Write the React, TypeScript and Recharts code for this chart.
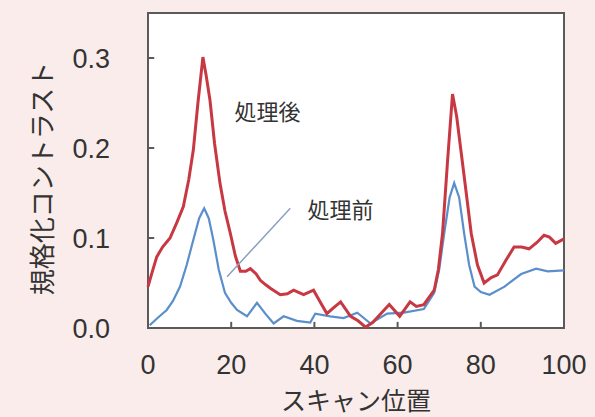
import { LineChart, Line, XAxis, YAxis, ReferenceLine, ReferenceDot, ReferenceArea, CartesianGrid, Label } from 'recharts'

// red curve (after processing)
const afterX = [0, 1, 2.1, 3.5, 5.3, 7, 8.5, 9.8, 10.9, 12, 13.2, 14, 14.9, 16, 17.3, 18.5, 19.8, 21, 22.2, 23.5, 24.6, 26, 27, 28.3, 29.5, 31.8, 33.5, 35, 37.4, 39.8, 41.5, 43, 44.5, 46.3, 48.7, 50.5, 52.3, 54, 56, 58, 60.5, 63, 64.5, 66.3, 68.8, 69.8, 70.8, 72, 73.2, 74.2, 75.2, 76.5, 77.7, 79.2, 80.8, 82.5, 84, 86, 88, 89.8, 91.6, 93.5, 95.2, 96.5, 98, 100]
const afterY = [0.046, 0.062, 0.079, 0.09, 0.1, 0.118, 0.135, 0.165, 0.198, 0.25, 0.301, 0.28, 0.253, 0.205, 0.161, 0.13, 0.105, 0.08, 0.063, 0.063, 0.066, 0.06, 0.053, 0.048, 0.044, 0.037, 0.038, 0.042, 0.037, 0.042, 0.028, 0.016, 0.022, 0.029, 0.013, 0.008, 0.001, 0.006, 0.016, 0.026, 0.013, 0.029, 0.024, 0.026, 0.042, 0.065, 0.105, 0.185, 0.26, 0.235, 0.198, 0.15, 0.105, 0.07, 0.05, 0.056, 0.059, 0.075, 0.09, 0.09, 0.088, 0.095, 0.103, 0.101, 0.094, 0.099]

// blue curve (before processing)
const beforeX = [0.4, 2.5, 4.5, 6, 7.7, 9.3, 10.9, 12.3, 13.5, 14.6, 15.7, 17, 18.5, 20, 21.4, 23.8, 26.2, 28.2, 30.2, 32.6, 35.8, 39, 40.2, 43.8, 47, 50.3, 53.5, 57.5, 61.5, 66.3, 68.8, 70, 71.2, 72.5, 73.6, 74.8, 76, 77.2, 78.5, 80, 82.1, 85.7, 89.7, 93.3, 96.1, 100]
const beforeY = [0.003, 0.012, 0.02, 0.03, 0.046, 0.07, 0.098, 0.122, 0.133, 0.122, 0.098, 0.065, 0.039, 0.028, 0.02, 0.013, 0.028, 0.016, 0.005, 0.013, 0.008, 0.006, 0.016, 0.013, 0.011, 0.017, 0.005, 0.016, 0.017, 0.021, 0.039, 0.065, 0.105, 0.145, 0.161, 0.145, 0.105, 0.07, 0.046, 0.04, 0.037, 0.046, 0.06, 0.066, 0.063, 0.064]

const xTicks = [0, 20, 40, 60, 80, 100]
const yTicks = [0, 0.1, 0.2, 0.3]

const afterData = afterX.map((x, i) => ({ x, v: afterY[i] }))
const beforeData = beforeX.map((x, i) => ({ x, v: beforeY[i] }))

const BG = '#f9ecea'
const FRAME = '#5a5a5a'
const TEXT = '#333333'
const SANS = '"Liberation Sans", Arial, sans-serif'
const JP = '"Noto Sans CJK JP", sans-serif'
// inward tick length in data units (about 6px)
const X_TICK_LEN = 1.5
const Y_TICK_LEN = 0.0068

const YTitle = ({ viewBox }: any) => {
  const cx = 40
  const cy = viewBox.y + viewBox.height / 2 + 8
  return (
    <text x={cx} y={cy} transform={`rotate(-90 ${cx} ${cy})`} textAnchor="middle" dominantBaseline="central"
      fontFamily={JP} fontSize={26} fill={TEXT}>
      規格化コントラスト
    </text>
  )
}

const XTitle = ({ viewBox }: any) => (
  <text x={viewBox.x + viewBox.width / 2} y={410} textAnchor="middle" fontFamily={JP} fontSize={25} fill={TEXT}>
    スキャン位置
  </text>
)

const note = (text: string) => ({ viewBox }: any) => (
  <text x={viewBox.x} y={viewBox.y} textAnchor="middle" dominantBaseline="central" fontFamily={JP} fontSize={22} fill={TEXT}>
    {text}
  </text>
)

export default function App() {
  return (
    <div style={{ position: 'absolute', left: 0, top: 0, width: 595, height: 417, background: BG }}>
      <LineChart width={595} height={417} margin={{ top: 13, right: 31, bottom: 0, left: 0 }}>
        <CartesianGrid horizontal={false} vertical={false} fill="#ffffff" fillOpacity={1} />
        <XAxis dataKey="x" type="number" domain={[0, 100]} ticks={xTicks} height={89}
          tickSize={-6} tickMargin={33} interval={0}
          tick={{ fill: TEXT, fontSize: 27, fontFamily: SANS }}
          axisLine={false} tickLine={false}
          allowDuplicatedCategory={false}>
          <Label content={XTitle} />
        </XAxis>
        <YAxis type="number" domain={[0, 0.35]} ticks={yTicks} width={148}
          tickSize={-6} tickMargin={44} interval={0}
          tickFormatter={(v: number) => v.toFixed(1)}
          tick={{ fill: TEXT, fontSize: 27, fontFamily: SANS }}
          axisLine={false} tickLine={false}>
          <Label content={YTitle} />
        </YAxis>
        {xTicks.slice(1, -1).map((t) => (
          <ReferenceLine key={`xt${t}`} segment={[{ x: t, y: 0 }, { x: t, y: Y_TICK_LEN }]} stroke={FRAME} strokeWidth={2} />
        ))}
        {yTicks.slice(1).map((t) => (
          <ReferenceLine key={`yt${t}`} segment={[{ x: 0, y: t }, { x: X_TICK_LEN, y: t }]} stroke={FRAME} strokeWidth={2} />
        ))}
        <ReferenceArea x1={0} x2={100} y1={0} y2={0.35} fill="none" stroke={FRAME} strokeWidth={2} />
        <Line data={beforeData} dataKey="v" type="linear" stroke="#5a8fcc" strokeWidth={2.2} dot={false} isAnimationActive={false} />
        <Line data={afterData} dataKey="v" type="linear" stroke="#c83843" strokeWidth={3} dot={false} isAnimationActive={false} />
        <ReferenceLine segment={[{ x: 34.2, y: 0.133 }, { x: 19, y: 0.057 }]} stroke="#8d9fc2" strokeWidth={1.5} />
        <ReferenceDot x={28.7} y={0.242} r={0} fill="none" stroke="none" label={note('処理後')} />
        <ReferenceDot x={46.3} y={0.133} r={0} fill="none" stroke="none" label={note('処理前')} />
      </LineChart>
    </div>
  )
}
